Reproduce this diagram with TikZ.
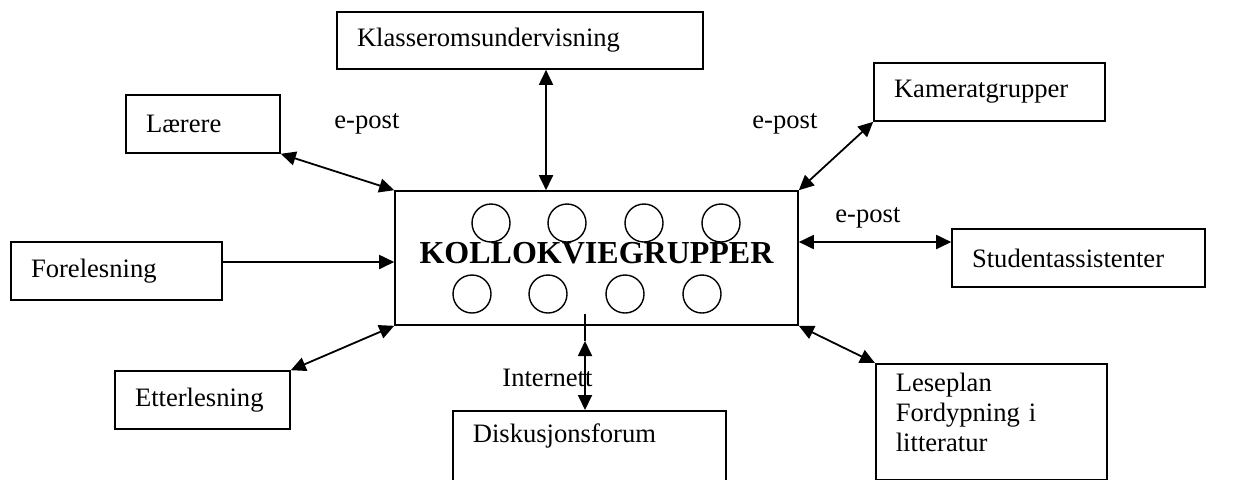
\documentclass[tikz,border=0pt]{standalone}
\usepackage{fontspec}
\setmainfont{Liberation Serif}
\usepackage{tikz}
\usetikzlibrary{arrows.meta}

\tikzset{
  boks/.style = {draw, line width = .8pt, inner xsep = 10pt, align = left,
    font = \fontsize{13.3}{15}\selectfont},
  etikett/.style = {inner sep = 0pt, anchor = base west,
    font = \fontsize{13.3}{15}\selectfont},
  pil/.style = {line width = .9pt,
    {Triangle[length = 7.5pt, width = 7pt]}-{Triangle[length = 7.5pt, width = 7pt]}},
  enpil/.style = {line width = .9pt, -{Triangle[length = 7.5pt, width = 7pt]}}
}

\begin{document}
\begin{tikzpicture}[x = .5pt, y = -.5pt]
  \useasboundingbox (0,0) rectangle (1234,479);
  \clip (0,0) rectangle (1234,479);

  \node[draw, line width = .8pt, minimum width = 201.5pt, minimum height = 67pt,
    text depth = 5pt, font = \fontsize{16}{19}\selectfont\bfseries]
    (kollokvie) at (596.5,258) {KOLLOKVIEGRUPPER\hspace{4.5pt}};

  \foreach \x in {491,567,644,721}
    \draw[line width = .7pt] (\x,223) circle (19);
  \foreach \x in {472,548,625,702}
    \draw[line width = .7pt] (\x,294) circle (19);

  \node[boks, text width = 163pt, minimum height = 28.5pt] (klasse) at (520,40.5)
    {Klasseromsundervisning};
  \node[boks, text width = 57pt, minimum height = 29pt] (laerere) at (203,124)
    {Lærere};
  \node[boks, text width = 95.5pt, minimum height = 29pt] (kamerat) at (989.5,92)
    {Kameratgrupper};
  \node[boks, text width = 85.5pt, minimum height = 29pt] (forel) at (116.5,271)
    {Forelesning};
  \node[boks, text width = 106.5pt, minimum height = 29pt] (student) at (1078.5,258)
    {Studentassistenter};
  \node[boks, text width = 67.5pt, minimum height = 29pt] (etter) at (202.5,400)
    {Etterlesning};
  \node[boks, anchor = north west, inner ysep = 6.4pt, text depth = 35pt,
    text width = 116.5pt] (disk) at (452,410) {Diskusjonsforum};
  \node[boks, anchor = north west, inner ysep = 4.4pt, text depth = 40pt,
    text width = 95.5pt] (lese) at (875,363)
    {Leseplan\\Fordypning i\\litteratur};

  \coordinate (kx) at (546,0);
  \coordinate (fy) at (0,262);
  \coordinate (sy) at (0,242);
  \coordinate (itopp) at (585,314);
  \coordinate (ispiss) at (585,341);

  \draw[pil] (laerere.south east) -- (kollokvie.north west);
  \draw[pil] (klasse.south -| kx) -- (kollokvie.north -| kx);
  \draw[pil] (kamerat.south west) -- (kollokvie.north east);
  \draw[enpil] (forel.east |- fy) -- (kollokvie.west |- fy);
  \draw[pil] (kollokvie.east |- sy) -- (student.west |- sy);
  \draw[pil] (etter.north east) -- (kollokvie.south west);
  \draw[pil] (kollokvie.south east) -- (lese.north west);
  \draw[line width = .9pt] (itopp) -- (ispiss);
  \draw[pil] (ispiss) -- (disk.north -| ispiss);

  \node[etikett] (epostl) at (334,128) {e-post};
  \node[etikett] (epostk) at (752,128) {e-post};
  \node[etikett] (eposts) at (835,222) {e-post};
  \node[etikett] (internett) at (502,386) {Internett};
\end{tikzpicture}
\end{document}
